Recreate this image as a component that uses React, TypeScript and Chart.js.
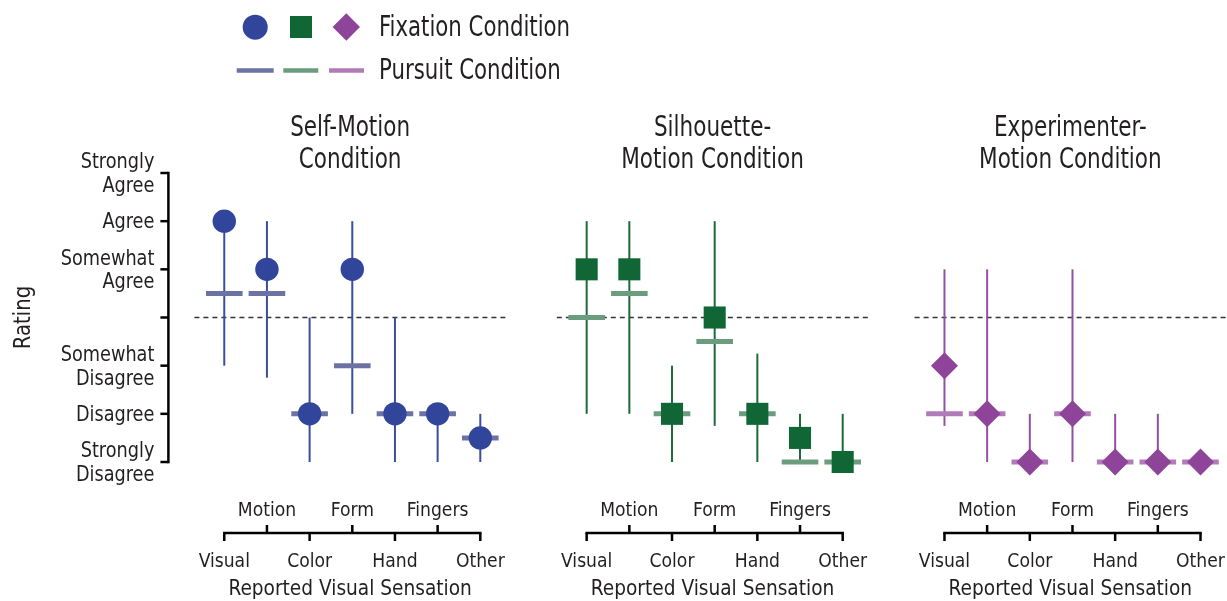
import React, { useEffect, useRef } from 'react';
import { Chart, registerables } from 'chart.js';
Chart.register(...registerables);

const FONT = '"DejaVu Sans Condensed", "DejaVu Sans", sans-serif';

const categories = ['Visual', 'Motion', 'Color', 'Form', 'Hand', 'Fingers', 'Other'];
const ratingTicks = [1, 2, 3, 4, 5, 6, 7];
const ratingLabels: string[][] = [
  ['Strongly', 'Disagree'],
  ['Disagree'],
  ['Somewhat', 'Disagree'],
  [],
  ['Somewhat', 'Agree'],
  ['Agree'],
  ['Strongly', 'Agree'],
];
const neutralRating = 4;

// Self-Motion condition
const selfFixation = [6, 5, 2, 5, 2, 2, 1.5];
const selfPursuit = [4.5, 4.5, 2, 3, 2, 2, 1.5];
const selfLow = [3, 2.75, 1, 2, 1, 1, 1];
const selfHigh = [6, 6, 4, 6, 4, 2, 2];

// Silhouette-Motion condition
const silFixation = [5, 5, 2, 4, 2, 1.5, 1];
const silPursuit = [4, 4.5, 2, 3.5, 2, 1, 1];
const silLow = [2, 2, 1, 1.75, 1, 1, 1];
const silHigh = [6, 6, 3, 6, 3.25, 2, 2];

// Experimenter-Motion condition
const expFixation = [3, 2, 1, 2, 1, 1, 1];
const expPursuit = [2, 2, 1, 2, 1, 1, 1];
const expLow = [1.75, 1, 1, 1, 1, 1, 1];
const expHigh = [5, 5, 2, 5, 2, 2, 1];

const W = 1227;
const H = 601;
const CW = 1280; // canvas width (extra room on the right, clipped by container)
const X_MIN = -0.7;
const X_MAX = 6.6;
const TEXT = '#231f20';

type Panel = {
  title: string[];
  fixation: number[];
  pursuit: number[];
  low: number[];
  high: number[];
  marker: string;
  radius: number;
  color: string;
  lineColor: string;
  pursuitColor: string;
  left: number;
  showY: boolean;
  showLegend: boolean;
};

const panels: Panel[] = [
  {
    title: ['Self-Motion', 'Condition'],
    fixation: selfFixation, pursuit: selfPursuit, low: selfLow, high: selfHigh,
    marker: 'circle', radius: 11.7, color: '#31469a', lineColor: '#3a4ea0', pursuitColor: '#6c72a3',
    left: 194.4, showY: true, showLegend: true,
  },
  {
    title: ['Silhouette-', 'Motion Condition'],
    fixation: silFixation, pursuit: silPursuit, low: silLow, high: silHigh,
    marker: 'rect', radius: 15.6, color: '#106634', lineColor: '#1a6b3c', pursuitColor: '#6b9c7e',
    left: 556.8, showY: false, showLegend: false,
  },
  {
    title: ['Experimenter-', 'Motion Condition'],
    fixation: expFixation, pursuit: expPursuit, low: expLow, high: expHigh,
    marker: 'rectRot', radius: 13.5, color: '#8e4499', lineColor: '#9450a0', pursuitColor: '#b17bb8',
    left: 914.6, showY: false, showLegend: false,
  },
];

const PLOT_W = 311.5;
const TOP = 173;
const BOTTOM = 462;

function txt(ctx: CanvasRenderingContext2D, s: string, x: number, y: number, size: number, sx: number, align: CanvasTextAlign) {
  ctx.save();
  ctx.font = `${size}px ${FONT}`;
  ctx.textAlign = align;
  ctx.textBaseline = 'alphabetic';
  ctx.fillStyle = TEXT;
  ctx.translate(x, y);
  ctx.scale(sx, 1);
  ctx.fillText(s, 0, 0);
  ctx.restore();
}

function makePlugin(p: Panel) {
  return {
    id: 'panelDeco',
    beforeDatasetsDraw(chart: any) {
      const { ctx, chartArea } = chart;
      const x = chart.scales.x;
      const y = chart.scales.y;
      ctx.save();
      const yn = y.getPixelForValue(neutralRating);
      ctx.strokeStyle = '#333333';
      ctx.lineWidth = 1.5;
      ctx.setLineDash([5, 4]);
      ctx.beginPath();
      ctx.moveTo(chartArea.left, yn);
      ctx.lineTo(chartArea.right, yn);
      ctx.stroke();
      ctx.setLineDash([]);
      ctx.strokeStyle = p.lineColor;
      ctx.lineWidth = 2;
      categories.forEach((_, i) => {
        if (p.low[i] === p.high[i]) return;
        const px = x.getPixelForValue(i);
        ctx.beginPath();
        ctx.moveTo(px, y.getPixelForValue(p.low[i]));
        ctx.lineTo(px, y.getPixelForValue(p.high[i]));
        ctx.stroke();
      });
      ctx.restore();
    },
    afterDraw(chart: any) {
      const { ctx, chartArea } = chart;
      const x = chart.scales.x;
      const y = chart.scales.y;
      ctx.save();
      ctx.strokeStyle = '#000000';
      const cx = (chartArea.left + chartArea.right) / 2;

      // titles
      txt(ctx, p.title[0], cx, chartArea.top - 37.5, 27.5, 0.87, 'center');
      txt(ctx, p.title[1], cx, chartArea.top - 5.5, 27.5, 0.87, 'center');

      // x bracket axis
      const ax = chartArea.bottom + 71;
      const x0 = x.getPixelForValue(0);
      const x6 = x.getPixelForValue(categories.length - 1);
      ctx.lineWidth = 2.5;
      ctx.beginPath();
      ctx.moveTo(x0 - 1.25, ax);
      ctx.lineTo(x6 + 1.25, ax);
      ctx.stroke();
      categories.forEach((c, i) => {
        const px = x.getPixelForValue(i);
        const up = i % 2 === 1;
        ctx.beginPath();
        ctx.moveTo(px, ax);
        ctx.lineTo(px, up ? ax - 8 : ax + 8);
        ctx.stroke();
        txt(ctx, c, px, up ? ax - 17 : ax + 34, 19.5, 0.98, 'center');
      });
      txt(ctx, 'Reported Visual Sensation', cx, ax + 62, 21.5, 0.96, 'center');

      if (p.showY) {
        const axX = chartArea.left - 26;
        ctx.lineWidth = 2.5;
        ctx.beginPath();
        ctx.moveTo(axX, y.getPixelForValue(ratingTicks[0]) + 1.25);
        ctx.lineTo(axX, y.getPixelForValue(ratingTicks[ratingTicks.length - 1]) - 1.25);
        ctx.stroke();
        ratingTicks.forEach((t, i) => {
          const py = y.getPixelForValue(t);
          ctx.beginPath();
          ctx.moveTo(axX, py);
          ctx.lineTo(axX - 8, py);
          ctx.stroke();
          const lines = ratingLabels[i];
          const lh = 23.5;
          lines.forEach((ln, k) => {
            txt(ctx, ln, axX - 14, py + 7.2 + (k - (lines.length - 1) / 2) * lh, 20.5, 0.96, 'right');
          });
        });
        ctx.save();
        ctx.translate(30, y.getPixelForValue(neutralRating));
        ctx.rotate(-Math.PI / 2);
        txt(ctx, 'Rating', 0, 0, 23, 0.95, 'center');
        ctx.restore();
      }

      if (p.showLegend) {
        ctx.fillStyle = panels[0].color;
        ctx.beginPath();
        ctx.arc(255.2, 27.2, 12.5, 0, Math.PI * 2);
        ctx.fill();
        ctx.fillStyle = panels[1].color;
        ctx.fillRect(301 - 11, 27 - 11, 22, 22);
        ctx.fillStyle = panels[2].color;
        ctx.beginPath();
        ctx.moveTo(346.3, 27 - 13.7);
        ctx.lineTo(346.3 + 13.7, 27);
        ctx.lineTo(346.3, 27 + 13.7);
        ctx.lineTo(346.3 - 13.7, 27);
        ctx.closePath();
        ctx.fill();
        const dashes = [[236.7, 273.7], [283.3, 318.3], [329, 364]];
        ctx.lineWidth = 4.5;
        dashes.forEach((d, k) => {
          ctx.strokeStyle = panels[k].pursuitColor;
          ctx.beginPath();
          ctx.moveTo(d[0], 70.5);
          ctx.lineTo(d[1], 70.5);
          ctx.stroke();
        });
        txt(ctx, 'Fixation Condition', 379, 36.3, 27.5, 0.86, 'left');
        txt(ctx, 'Pursuit Condition', 379, 79.3, 27.5, 0.86, 'left');
      }
      ctx.restore();
    },
  };
}

function PanelChart({ p }: { p: Panel }) {
  const ref = useRef<HTMLCanvasElement>(null);
  useEffect(() => {
    document.body.style.margin = '0';
    const canvas = ref.current!;
    const chart = new Chart(canvas, {
      type: 'scatter',
      data: {
        datasets: [
          {
            label: 'Fixation',
            data: p.fixation.map((v, i) => ({ x: i, y: v })),
            pointStyle: p.marker as any,
            pointRadius: p.radius,
            pointHoverRadius: p.radius,
            pointBackgroundColor: p.color,
            pointBorderColor: p.color,
            pointBorderWidth: 0,
            order: 0,
            clip: false as any,
          },
          {
            label: 'Pursuit',
            data: p.pursuit.map((v, i) => ({ x: i, y: v })),
            pointStyle: 'line',
            pointRadius: 18.3,
            pointHoverRadius: 18.3,
            pointBorderColor: p.pursuitColor,
            pointBackgroundColor: p.pursuitColor,
            pointBorderWidth: 5,
            order: 1,
            clip: false as any,
          },
        ],
      },
      options: {
        responsive: false,
        animation: false,
        devicePixelRatio: 1,
        events: [],
        layout: {
          padding: { left: p.left, right: CW - (p.left + PLOT_W), top: TOP, bottom: H - BOTTOM },
        },
        plugins: { legend: { display: false }, tooltip: { enabled: false }, title: { display: false } },
        scales: {
          x: { type: 'linear', min: X_MIN, max: X_MAX, display: false },
          y: { type: 'linear', min: 1, max: 7, display: false },
        },
      },
      plugins: [makePlugin(p)],
    });
    return () => chart.destroy();
  }, []);
  return (
    <canvas
      ref={ref}
      width={CW}
      height={H}
      style={{ position: 'absolute', left: 0, top: 0, width: CW, height: H }}
    />
  );
}

export default function App() {
  return (
    <div style={{ position: 'relative', width: W, height: H, overflow: 'hidden', background: '#ffffff' }}>
      {panels.map((p, i) => (
        <PanelChart key={i} p={p} />
      ))}
    </div>
  );
}
